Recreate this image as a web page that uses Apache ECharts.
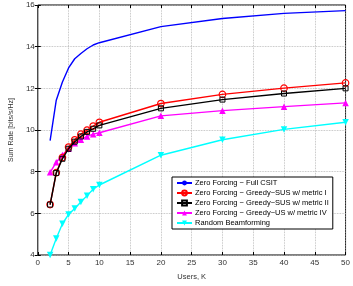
<!DOCTYPE html>
<html>
<head>
<meta charset="utf-8">
<script src="https://cdn.jsdelivr.net/npm/echarts@6/dist/echarts.min.js"></script>
<style>
  html, body { margin: 0; padding: 0; background: #fff; }
  #Chart { width: 353px; height: 286px; }
</style>
</head>
<body>
<div id="Chart"></div>
<script>
const users = [2, 3, 4, 5, 6, 7, 8, 9, 10, 20, 30, 40, 50]
const fullCsit = [9.49, 11.43, 12.3, 12.98, 13.42, 13.67, 13.9, 14.08, 14.19, 14.96, 15.35, 15.6, 15.73]
const metricI = [6.42, 7.95, 8.68, 9.18, 9.53, 9.8, 9.99, 10.19, 10.37, 11.27, 11.71, 12.01, 12.26]
const metricII = [6.42, 7.94, 8.62, 9.1, 9.44, 9.69, 9.91, 10.06, 10.22, 11.04, 11.46, 11.75, 12.0]
const metricIV = [7.97, 8.45, 8.8, 9.1, 9.36, 9.53, 9.69, 9.8, 9.87, 10.68, 10.93, 11.12, 11.3]
const randomBf = [4.0, 4.79, 5.5, 5.95, 6.23, 6.54, 6.85, 7.16, 7.36, 8.79, 9.53, 10.03, 10.37]
const names = [
  "Zero Forcing − Full CSIT",
  "Zero Forcing − Greedy−SUS w/ metric I",
  "Zero Forcing − Greedy−SUS w/ metric II",
  "Zero Forcing − Greedy−US w/ metric IV",
  "Random Beamforming"
]

const pair = (ys) => users.map((x, i) => [x, ys[i]])
const font = "\"Liberation Sans\", Arial, sans-serif"

const chart = echarts.init(document.getElementById("Chart"), null, { renderer: "canvas" })

const tickStyle = { show: true, inside: true, length: 3, lineStyle: { color: "#000", width: 1 } }
const grid = { type: "dotted", color: "#b0b0b0", width: 0.8 }

let option = {
  animation: false,
  textStyle: { fontFamily: font },
  grid: { left: 22, right: 4, top: 5, bottom: 23, show: true, borderColor: "#000", borderWidth: 1 },
  legend: {
    orient: "vertical",
    left: 172,
    top: 177,
    itemGap: 2,
    itemWidth: 15,
    itemHeight: 6,
    padding: [2, 4, 2, 4],
    borderColor: "#000",
    borderWidth: 1,
    backgroundColor: "#fff",
    textStyle: { fontSize: 7.5, color: "#000", fontFamily: font, padding: [0, 0, 0, -2] },
    data: names
  },
  xAxis: [
    {
      type: "value", min: 0, max: 50, interval: 5,
      name: "Users, K", nameLocation: "middle", nameGap: 18,
      nameTextStyle: { fontSize: 7.5, color: "#333" },
      axisLine: { show: false },
      axisTick: tickStyle,
      axisLabel: { fontSize: 8, color: "#333", margin: 4 },
      splitLine: { show: true, lineStyle: grid }
    },
    {
      type: "value", min: 0, max: 50, interval: 5, position: "top",
      axisLine: { show: false }, axisTick: tickStyle, axisLabel: { show: false }, splitLine: { show: false }
    }
  ],
  yAxis: [
    {
      type: "value", min: 4, max: 16, interval: 2,
      name: "Sum Rate [bits/s/Hz]", nameLocation: "middle", nameGap: 15,
      nameTextStyle: { fontSize: 7, color: "#333" },
      axisLine: { show: false },
      axisTick: tickStyle,
      axisLabel: { fontSize: 8, color: "#333", margin: 3 },
      splitLine: { show: true, lineStyle: grid }
    },
    {
      type: "value", min: 4, max: 16, interval: 2, position: "right",
      axisLine: { show: false }, axisTick: tickStyle, axisLabel: { show: false }, splitLine: { show: false }
    }
  ],
  series: [
    {
      name: names[0], type: "line", showSymbol: false, symbol: "none",
      lineStyle: { color: "#0000ff", width: 1.4 }, itemStyle: { color: "#0000ff" },
      data: pair(fullCsit), z: 2
    },
    {
      name: names[1], type: "line", symbol: "circle", symbolSize: 6.5,
      lineStyle: { color: "#ff0000", width: 1.4 },
      itemStyle: { color: "rgba(255,255,255,0)", borderColor: "#ff0000", borderWidth: 1.2 },
      data: pair(metricI), z: 3
    },
    {
      name: names[2], type: "line", symbol: "rect", symbolSize: 5,
      lineStyle: { color: "#000", width: 1.4 },
      itemStyle: { color: "rgba(255,255,255,0)", borderColor: "#000", borderWidth: 1 },
      data: pair(metricII), z: 4
    },
    {
      name: names[3], type: "line", symbol: "triangle", symbolSize: 6.5,
      lineStyle: { color: "#ff00ff", width: 1.4 },
      itemStyle: { color: "#ff00ff" },
      data: pair(metricIV), z: 2
    },
    {
      name: names[4], type: "line", symbol: "triangle", symbolRotate: 180, symbolSize: 6.5,
      lineStyle: { color: "#00ffff", width: 1.4 },
      itemStyle: { color: "#00ffff" },
      data: pair(randomBf), z: 2
    }
  ]
}
chart.setOption(option)
</script>
</body>
</html>
